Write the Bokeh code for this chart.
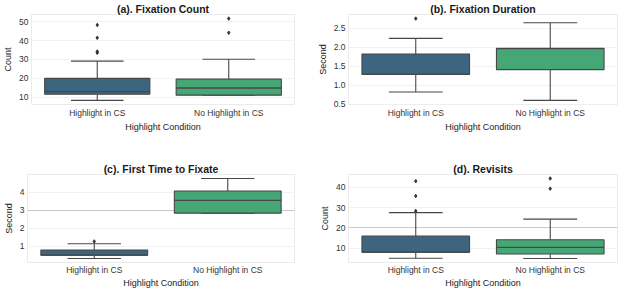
from bokeh.plotting import figure
from bokeh.layouts import column, row
from bokeh.models import ColumnDataSource, FixedTicker, Grid, Range1d, NumeralTickFormatter
from bokeh.transform import dodge
from bokeh.embed import file_html
from bokeh.resources import INLINE

conditions = ["Highlight in CS", "No Highlight in CS"]
box_colors = ["#3e6580", "#46a776"]

# (a) Fixation Count
a_lo = [8.2, 11.0]
a_q1 = [11.5, 11.0]
a_med = [12.9, 14.8]
a_q3 = [19.9, 19.5]
a_hi = [29.1, 30.1]
a_out_cond = ["Highlight in CS", "Highlight in CS", "Highlight in CS", "Highlight in CS",
              "No Highlight in CS", "No Highlight in CS"]
a_out_val = [48.3, 41.5, 34.2, 33.5, 51.7, 44.2]
a_ticks = [10, 20, 30, 40, 50]

# (b) Fixation Duration
b_lo = [0.82, 0.60]
b_q1 = [1.28, 1.41]
b_med = [1.29, 1.96]
b_q3 = [1.82, 1.97]
b_hi = [2.23, 2.64]
b_out_cond = ["Highlight in CS"]
b_out_val = [2.75]
b_ticks = [0.5, 1.0, 1.5, 2.0, 2.5]

# (c) First Time to Fixate
c_lo = [0.32, 2.85]
c_q1 = [0.50, 2.85]
c_med = [0.51, 3.56]
c_q3 = [0.79, 4.08]
c_hi = [1.14, 4.78]
c_out_cond = ["Highlight in CS"]
c_out_val = [1.27]
c_ticks = [1, 2, 3, 4]

# (d) Revisits
d_lo = [5.0, 4.9]
d_q1 = [8.0, 7.1]
d_med = [8.1, 10.4]
d_q3 = [15.9, 14.1]
d_hi = [27.5, 24.3]
d_out_cond = ["Highlight in CS", "Highlight in CS", "Highlight in CS",
              "No Highlight in CS", "No Highlight in CS"]
d_out_val = [28.3, 35.7, 43.0, 39.3, 44.3]
d_ticks = [10, 20, 30, 40]

FONT = "Liberation Sans"


def make_panel(title, ylabel, lo, q1, med, q3, hi, out_cond, out_val, ticks, fmt,
               width, height, b_left, b_right, b_top, b_bottom, dark_lines, tight):
    vals = lo + hi + out_val
    vmin, vmax = min(vals), max(vals)
    pad = (vmax - vmin) * 0.05
    y0, y1 = vmin - pad, vmax + pad
    p = figure(x_range=conditions, y_range=Range1d(y0, y1), width=width, height=height,
               output_backend="svg", toolbar_location=None,
               min_border_left=b_left, min_border_right=b_right,
               min_border_top=b_top, min_border_bottom=b_bottom)
    p.title.text = title
    p.title.align = "center"
    p.title.text_font = FONT
    p.title.text_font_size = "10.5px"
    p.title.text_font_style = "bold"
    p.title.text_color = "#1a1a1a"
    p.title.text_line_height = 0.9
    p.title.standoff = 0

    src = ColumnDataSource(dict(cond=conditions, lo=lo, q1=q1, med=med, q3=q3, hi=hi,
                                color=box_colors))
    xl = dodge("cond", -0.4, range=p.x_range)
    xr = dodge("cond", 0.4, range=p.x_range)
    cl = dodge("cond", -0.2, range=p.x_range)
    cr = dodge("cond", 0.2, range=p.x_range)
    lc = "#474747"
    p.segment(x0="cond", y0="q3", x1="cond", y1="hi", source=src, line_color=lc, line_width=1.1)
    p.segment(x0="cond", y0="q1", x1="cond", y1="lo", source=src, line_color=lc, line_width=1.1)
    p.segment(x0=cl, y0="hi", x1=cr, y1="hi", source=src, line_color=lc, line_width=1.1)
    p.segment(x0=cl, y0="lo", x1=cr, y1="lo", source=src, line_color=lc, line_width=1.1)
    p.vbar(x="cond", width=0.8, bottom="q1", top="q3", source=src, fill_color="color",
           line_color=lc, line_width=1.1)
    p.segment(x0=xl, y0="med", x1=xr, y1="med", source=src, line_color=lc, line_width=1.3)
    osrc = ColumnDataSource(dict(cond=out_cond, val=out_val))
    p.scatter(x="cond", y="val", source=osrc, marker="diamond", size=3.5,
              fill_color="#333333", line_color="#333333")

    p.xaxis.axis_label = "Highlight Condition"
    p.yaxis.axis_label = ylabel
    p.yaxis.ticker = FixedTicker(ticks=ticks)
    if fmt:
        p.yaxis.formatter = NumeralTickFormatter(format=fmt)
    for ax in (p.xaxis[0], p.yaxis[0]):
        ax.axis_line_color = None
        ax.major_tick_line_color = None
        ax.minor_tick_line_color = None
        ax.major_tick_out = 0
        ax.major_tick_in = 0
        ax.minor_tick_out = 0
        ax.minor_tick_in = 0
        ax.major_label_text_font = FONT
        ax.major_label_text_font_size = "8.5px"
        ax.major_label_text_color = "#333333"
        ax.axis_label_text_font = FONT
        ax.axis_label_text_font_size = "9px"
        ax.axis_label_text_font_style = "normal"
        ax.axis_label_text_color = "#222222"
        ax.major_label_standoff = 3
        ax.axis_label_standoff = 3
    if tight:
        p.xaxis.major_label_standoff = 2
        p.xaxis.axis_label_standoff = 0
    else:
        p.xaxis.major_label_standoff = 3
        p.xaxis.axis_label_standoff = 1
    p.xgrid.grid_line_color = None
    p.ygrid.grid_line_color = "#f2f2f2"
    p.outline_line_color = "#ebebeb"
    if dark_lines:
        g = Grid(dimension=1, ticker=FixedTicker(ticks=dark_lines),
                 grid_line_color="#c8c8c8", grid_line_width=1.2)
        p.add_layout(g)
        g2 = Grid(dimension=1, ticker=FixedTicker(ticks=[y1]),
                  grid_line_color="#c8c8c8", grid_line_width=2.4)
        p.add_layout(g2)
    p.background_fill_color = "white"
    p.border_fill_color = "white"
    return p


pa = make_panel("(a). Fixation Count", "Count", a_lo, a_q1, a_med, a_q3, a_hi,
                a_out_cond, a_out_val, a_ticks, None, 310, 145, 23, 16, 10, 41, None, False)
pb = make_panel("(b). Fixation Duration", "Second", b_lo, b_q1, b_med, b_q3, b_hi,
                b_out_cond, b_out_val, b_ticks, "0.0", 310, 145, 38, 3, 10, 41, None, False)
pc = make_panel("(c). First Time to Fixate", "Second", c_lo, c_q1, c_med, c_q3, c_hi,
                c_out_cond, c_out_val, c_ticks, None, 310, 145, 23, 16, 29, 22, [3], True)
pd = make_panel("(d). Revisits", "Count", d_lo, d_q1, d_med, d_q3, d_hi,
                d_out_cond, d_out_val, d_ticks, None, 310, 145, 38, 3, 29, 22, [20], True)

layout = column(row(pa, pb), row(pc, pd))
open("out.html", "w").write(file_html(layout, INLINE))
